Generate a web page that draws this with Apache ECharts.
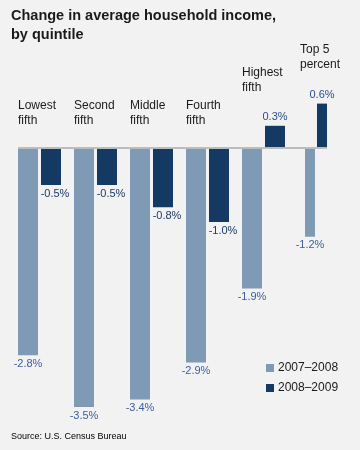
<!DOCTYPE html>
<html>
<head>
<meta charset="utf-8">
<script src="https://cdn.jsdelivr.net/npm/echarts@6/dist/echarts.min.js"></script>
<style>
html,body{margin:0;padding:0;background:#f2f2f2;}
#c{width:360px;height:450px;}
</style>
</head>
<body>
<div id="c"></div>
<script>
// ---- data ----
const categories = ['Lowest\nfifth', 'Second\nfifth', 'Middle\nfifth', 'Fourth\nfifth', 'Highest\nfifth', 'Top 5\npercent'];
const seriesNames = ['2007–2008', '2008–2009'];
const v0708 = [-2.8, -3.5, -3.4, -2.9, -1.9, -1.2];
const v0809 = [-0.5, -0.5, -0.8, -1.0, 0.3, 0.6];

// ---- style ----
const FONT = '"Liberation Sans", Arial, sans-serif';
const LIGHT = '#7f9ab5';
const DARK = '#143a63';
const LIGHT_LBL = '#3d5d9b';
const DARK_LBL = '#1c3a66';
const POS_LBL = '#2a4f88';

const fmt = v => v.toFixed(1) + '%';

function lightData(vals) {
  return vals.map(v => ({
    value: v,
    label: {position: v < 0 ? 'bottom' : 'top'}
  }));
}
function darkData(vals, shift) {
  return vals.map(v => ({
    value: v,
    label: {
      position: v < 0 ? 'bottom' : 'top',
      color: v < 0 ? DARK_LBL : POS_LBL,
      offset: [v < 0 ? shift : 0, 0]
    }
  }));
}
function nameMarks(cats, vals, dx) {
  return vals.map((v, i) => ({
    name: cats[i],
    coord: [i, Math.max(0, v)],
    label: {offset: [dx, v > 0 ? -31 : -20]}
  }));
}

const mainCats = categories.slice(0, 5);
const topCats = categories.slice(5);

const baseLabel = {
  show: true,
  fontFamily: FONT,
  fontSize: 11,
  distance: 3,
  formatter: p => fmt(p.value)
};

const markPointBase = {
  symbol: 'rect',
  symbolSize: 1,
  itemStyle: {color: 'rgba(0,0,0,0)'},
  silent: true,
  label: {
    show: true,
    position: 'inside',
    align: 'left',
    verticalAlign: 'bottom',
    formatter: '{b}',
    fontFamily: FONT,
    fontSize: 12,
    lineHeight: 15,
    color: '#1a1a1a'
  }
};

const chart = echarts.init(document.getElementById('c'), null, {renderer: 'canvas'});
chart.setOption({
  animation: false,
  backgroundColor: '#f2f2f2',
  title: {
    text: 'Change in average household income,\nby quintile',
    left: 11,
    top: 7,
    padding: 0,
    textStyle: {
      fontFamily: FONT,
      fontWeight: 'bold',
      fontSize: 14.5,
      lineHeight: 18.5,
      color: '#1a1a1a'
    }
  },
  legend: {
    orient: 'vertical',
    left: 261,
    top: 357,
    itemWidth: 8,
    itemHeight: 8,
    itemGap: 8,
    icon: 'rect',
    data: seriesNames,
    textStyle: {fontFamily: FONT, fontSize: 12, color: '#1a1a1a', padding: [0, 0, 0, -1]}
  },
  grid: [
    {left: 11.5, width: 280, top: 74, height: 370},
    {left: 300, width: 32, top: 74, height: 370}
  ],
  xAxis: [
    {type: 'category', gridIndex: 0, data: mainCats, show: false},
    {type: 'category', gridIndex: 1, data: topCats, show: false}
  ],
  yAxis: [
    {type: 'value', gridIndex: 0, min: -4, max: 1, show: false},
    {type: 'value', gridIndex: 1, min: -4, max: 1, show: false}
  ],
  series: [
    {
      name: seriesNames[0], type: 'bar', xAxisIndex: 0, yAxisIndex: 0,
      barWidth: 20, barGap: '15%',
      itemStyle: {color: LIGHT},
      label: Object.assign({}, baseLabel, {color: LIGHT_LBL}),
      data: lightData(v0708.slice(0, 5))
    },
    {
      name: seriesNames[1], type: 'bar', xAxisIndex: 0, yAxisIndex: 0,
      barWidth: 20, barGap: '15%',
      itemStyle: {color: DARK},
      label: Object.assign({}, baseLabel, {color: DARK_LBL}),
      data: darkData(v0809.slice(0, 5), 4),
      markPoint: Object.assign({}, markPointBase, {data: nameMarks(mainCats, v0809.slice(0, 5), -33)})
    },
    {
      name: seriesNames[0], type: 'bar', xAxisIndex: 1, yAxisIndex: 1,
      barWidth: 10, barGap: '20%',
      itemStyle: {color: LIGHT},
      label: Object.assign({}, baseLabel, {color: LIGHT_LBL}),
      data: lightData(v0708.slice(5))
    },
    {
      name: seriesNames[1], type: 'bar', xAxisIndex: 1, yAxisIndex: 1,
      barWidth: 10, barGap: '20%',
      itemStyle: {color: DARK},
      label: Object.assign({}, baseLabel, {color: DARK_LBL}),
      data: darkData(v0809.slice(5), 0),
      markPoint: Object.assign({}, markPointBase, {data: nameMarks(topCats, v0809.slice(5), -22)})
    }
  ]
});

// zero line spanning from first bar to last bar, positioned through the axes
const y0 = chart.convertToPixel({yAxisIndex: 0}, 0);
const xL = chart.convertToPixel({xAxisIndex: 0}, mainCats[0]) - 21.5;
const xR = chart.convertToPixel({xAxisIndex: 1}, topCats[0]) + 11;
chart.setOption({
  graphic: [{
    type: 'text',
    left: 11,
    top: 432,
    style: {text: 'Source: U.S. Census Bureau', font: '9px ' + FONT, fill: '#000000'}
  }, {
    type: 'line',
    shape: {x1: xL, y1: y0, x2: xR, y2: y0},
    style: {stroke: '#bcbcbc', lineWidth: 2},
    z: 10
  }]
});
</script>
</body>
</html>
